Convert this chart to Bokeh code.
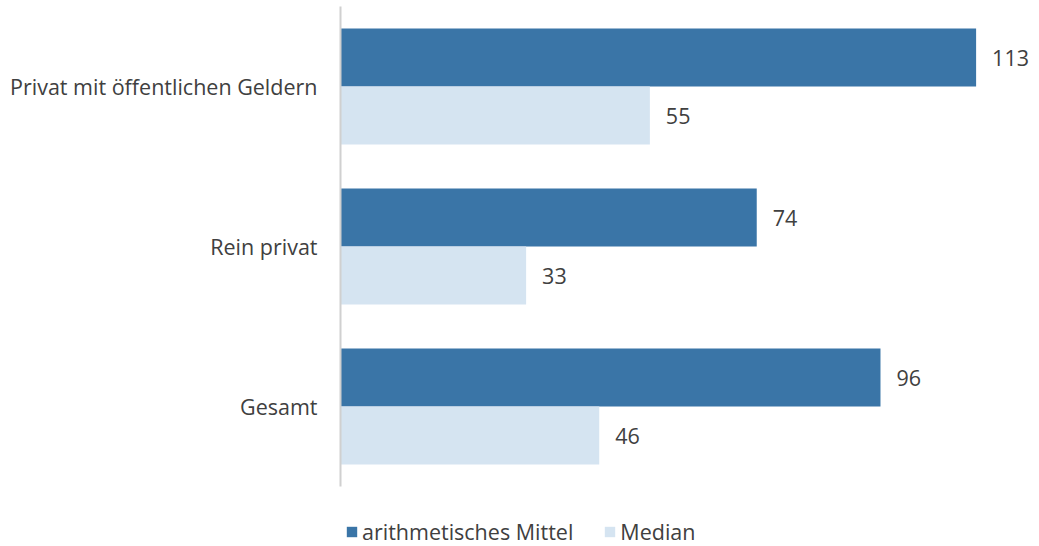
from bokeh.plotting import figure
from bokeh.models import Range1d, FixedTicker, Legend, LegendItem
from bokeh.core.properties import value
from bokeh.embed import file_html
from bokeh.resources import INLINE

categories = ["Privat mit öffentlichen Geldern", "Rein privat", "Gesamt"]
mittel = [113, 74, 96]
median = [55, 33, 46]
series_names = ["arithmetisches Mittel", "Median"]
colors = ["#3A75A7", "#D5E4F1"]

FONT = "Open Sans"
TXT = "#404040"
FS = "21.5px"

n = len(categories)
centers = [n - 0.5 - i for i in range(n)]
bar_h = 0.3625
off = bar_h / 2
y_mittel = [c + off for c in centers]
y_median = [c - off for c in centers]

p = figure(width=1039, height=546, output_backend="svg", toolbar_location=None,
           x_range=Range1d(0, 124.27), y_range=Range1d(-0.375, n),
           min_border_left=340, min_border_right=0, min_border_top=6, min_border_bottom=0)
p.outline_line_color = None
p.xgrid.visible = False
p.ygrid.visible = False
p.xaxis.visible = False

r1 = p.hbar(y=y_mittel, left=0, right=mittel, height=bar_h, color=colors[0], line_color=None)
r2 = p.hbar(y=y_median, left=0, right=median, height=bar_h, color=colors[1], line_color=None)

p.text(x=mittel, y=y_mittel, text=[str(v) for v in mittel], x_offset=16, text_baseline="middle",
       text_align="left", text_font=value(FONT), text_font_size=FS, text_color=TXT)
p.text(x=median, y=y_median, text=[str(v) for v in median], x_offset=16, text_baseline="middle",
       text_align="left", text_font=value(FONT), text_font_size=FS, text_color=TXT)

ya = p.yaxis[0]
ya.bounds = (0, n)
ya.ticker = FixedTicker(ticks=centers)
ya.major_label_overrides = {c: cat for c, cat in zip(centers, categories)}
ya.major_tick_line_color = None
ya.minor_tick_line_color = None
ya.axis_line_color = "#D0D0D0"
ya.axis_line_width = 2
ya.major_label_standoff = 17
ya.major_label_text_font = FONT
ya.major_label_text_font_size = FS
ya.major_label_text_color = TXT

legend = Legend(items=[LegendItem(label=series_names[0], renderers=[r1]),
                       LegendItem(label=series_names[1], renderers=[r2])],
                location=(5, 0), orientation="horizontal",
                glyph_width=13, glyph_height=13, label_standoff=4, spacing=30,
                padding=0, margin=0, border_line_color=None, background_fill_alpha=0,
                label_text_font=FONT, label_text_font_size=FS, label_text_color=TXT)
p.add_layout(legend)

open("out.html", "w").write(file_html(p, INLINE))
